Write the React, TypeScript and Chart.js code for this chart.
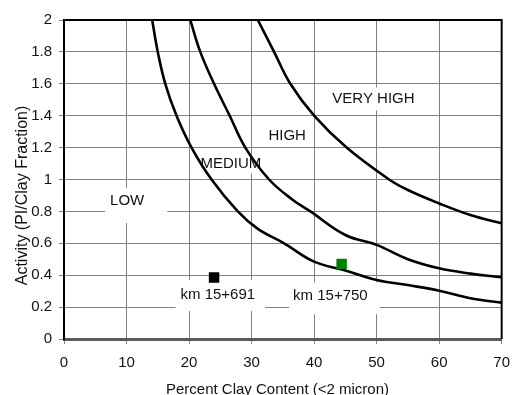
import React, { useEffect, useRef } from 'react';
import { Chart, registerables } from 'chart.js';

Chart.register(...registerables);

// ---- axis ticks ----
const xTicks = [0, 10, 20, 30, 40, 50, 60, 70];
const xTickLabels = ['0', '10', '20', '30', '40', '50', '60', '70'];
const yTicks = [0, 0.2, 0.4, 0.6, 0.8, 1, 1.2, 1.4, 1.6, 1.8, 2];
const yTickLabels = ['0', '0.2', '0.4', '0.6', '0.8', '1', '1.2', '1.4', '1.6', '1.8', '2'];

// ---- boundary curves (Percent clay, Activity) ----
const lowMediumX = [14.1, 15.0, 16.2, 18.0, 20.4, 23.6, 27.8, 31, 35.2, 40, 45, 50, 55, 60, 65, 70];
const lowMediumY = [2.0, 1.8, 1.6, 1.4, 1.2, 1.0, 0.8, 0.69, 0.6, 0.485, 0.43, 0.37, 0.338, 0.303, 0.255, 0.228];

const mediumHighX = [20.2, 21.8, 24.0, 26.5, 29.0, 32.8, 36.5, 39.4, 45, 50, 55, 60, 65, 70];
const mediumHighY = [2.0, 1.8, 1.6, 1.4, 1.2, 1.0, 0.875, 0.8, 0.652, 0.59, 0.5, 0.443, 0.41, 0.387];

const highVeryHighX = [31.0, 33.6, 36.2, 40.0, 45.2, 52.0, 55, 60, 65, 70];
const highVeryHighY = [2.0, 1.8, 1.6, 1.4, 1.2, 1.0, 0.934, 0.85, 0.777, 0.725];

// ---- samples ----
const sampleNames = ['km 15+691', 'km 15+750'];
const sampleClay = [24.0, 44.4];
const sampleActivity = [0.385, 0.47];
const sampleColors = ['#000000', '#008000'];
const sampleLabelX = [24.6, 42.6];
const sampleLabelY = [0.279, 0.271];

// ---- zone labels ----
const zoneNames = ['LOW', 'MEDIUM', 'HIGH', 'VERY HIGH'];
const zoneLabelX = [10.1, 26.7, 35.7, 49.5];
const zoneLabelY = [0.865, 1.097, 1.273, 1.505];

// ---- axis titles ----
const xTitle = 'Percent Clay Content (<2 micron)';
const yTitle = 'Activity (PI/Clay Fraction)';

const FONT = '"Liberation Sans", Arial, sans-serif';

// white box paddings [left, top, right, bottom] (styling)
const zonePads = [
  [5, 5.5, 23, 14.5],
  [2, 2, 2, 2],
  [2, 2, 2, 2],
  [3, 4, 3, 4],
];
const samplePads = [
  [5, 7, 10, 9],
  [4, 6, 12, 11],
];

const overlayPlugin = {
  id: 'overlay',
  beforeDatasetsDraw(chart: any) {
    const { ctx, scales } = chart;
    const xs = scales.x;
    const ys = scales.y;
    ctx.save();
    ctx.font = `15px ${FONT}`;
    ctx.textAlign = 'center';
    ctx.textBaseline = 'middle';
    const draw = (text: string, vx: number, vy: number, pad: number[]) => {
      const px = xs.getPixelForValue(vx);
      const py = ys.getPixelForValue(vy);
      const w = ctx.measureText(text).width;
      ctx.fillStyle = '#ffffff';
      ctx.fillRect(px - w / 2 - pad[0], py - 7.5 - pad[1], w + pad[0] + pad[2], 15 + pad[1] + pad[3]);
      ctx.fillStyle = '#111111';
      ctx.fillText(text, px, py);
    };
    zoneNames.forEach((t, i) => draw(t, zoneLabelX[i], zoneLabelY[i], zonePads[i]));
    sampleNames.forEach((t, i) => draw(t, sampleLabelX[i], sampleLabelY[i], samplePads[i]));
    ctx.restore();
  },
  afterDraw(chart: any) {
    const { ctx, chartArea } = chart;
    ctx.save();
    // top and right frame
    ctx.strokeStyle = '#000000';
    ctx.lineWidth = 2;
    ctx.beginPath();
    ctx.moveTo(chartArea.left - 1, chartArea.top);
    ctx.lineTo(chartArea.right, chartArea.top);
    ctx.lineTo(chartArea.right, chartArea.bottom);
    ctx.stroke();
    // axis titles
    ctx.fillStyle = '#111111';
    ctx.textAlign = 'center';
    ctx.textBaseline = 'alphabetic';
    ctx.font = `15px ${FONT}`;
    ctx.fillText(xTitle, 277.5, 394);
    ctx.font = `16px ${FONT}`;
    ctx.translate(27, 195.5);
    ctx.rotate(-Math.PI / 2);
    ctx.fillText(yTitle, 0, 0);
    ctx.restore();
  },
};

const toPoints = (xs: number[], ys: number[]) => xs.map((v, i) => ({ x: v, y: ys[i] }));

export default function App() {
  const ref = useRef<HTMLCanvasElement | null>(null);

  useEffect(() => {
    if (!ref.current) return;
    const curveStyle = {
      showLine: true,
      borderColor: '#000000',
      borderWidth: 2.6,
      pointRadius: 0,
      pointHoverRadius: 0,
      tension: 0.4,
      fill: false,
    };
    const chart = new Chart(ref.current, {
      type: 'scatter',
      data: {
        datasets: [
          ...sampleNames.map((n, i) => ({
            label: n,
            data: [{ x: sampleClay[i], y: sampleActivity[i] }],
            pointStyle: 'rect' as const,
            pointRadius: 7.4,
            pointHoverRadius: 7.4,
            backgroundColor: sampleColors[i],
            borderColor: sampleColors[i],
            borderWidth: 0,
            showLine: false,
          })),
          { label: 'Low/Medium', data: toPoints(lowMediumX, lowMediumY), ...curveStyle },
          { label: 'Medium/High', data: toPoints(mediumHighX, mediumHighY), ...curveStyle },
          { label: 'High/Very high', data: toPoints(highVeryHighX, highVeryHighY), ...curveStyle },
        ],
      },
      options: {
        responsive: false,
        animation: false,
        devicePixelRatio: 1,
        events: [],
        layout: { padding: { left: 0, top: 20, right: 13, bottom: 0 } },
        plugins: { legend: { display: false }, tooltip: { enabled: false }, title: { display: false } },
        scales: {
          x: {
            type: 'linear',
            min: 0,
            max: 70,
            afterBuildTicks: (s: any) => {
              s.ticks = xTicks.map((v) => ({ value: v }));
            },
            afterFit: (s: any) => {
              s.height = 61;
            },
            ticks: {
              callback: (_v: any, i: number) => xTickLabels[i],
              color: '#111111',
              font: { family: FONT, size: 15 },
              padding: 10,
              maxRotation: 0,
            },
            grid: {
              color: '#808080',
              lineWidth: 1,
              borderDash: [2, 1],
              tickLength: 5,
              tickColor: '#888888',
              tickBorderDash: [],
            } as any,
            border: { display: true, color: '#5a5a5a', width: 3 },
          },
          y: {
            type: 'linear',
            min: 0,
            max: 2,
            afterBuildTicks: (s: any) => {
              s.ticks = yTicks.map((v) => ({ value: v }));
            },
            afterFit: (s: any) => {
              s.width = 64;
            },
            ticks: {
              callback: (_v: any, i: number) => yTickLabels[i],
              color: '#111111',
              font: { family: FONT, size: 15 },
              padding: 7,
            },
            grid: {
              color: '#808080',
              lineWidth: 1,
              borderDash: [2, 1],
              tickLength: 5,
              tickColor: '#888888',
              tickBorderDash: [],
            } as any,
            border: { display: true, color: '#000000', width: 2 },
          },
        },
      },
      plugins: [overlayPlugin],
    });
    return () => chart.destroy();
  }, []);

  return (
    <div style={{ position: 'fixed', left: 0, top: 0, width: 520, height: 400, background: '#ffffff' }}>
      <canvas ref={ref} width={520} height={400} style={{ display: 'block' }} />
    </div>
  );
}
